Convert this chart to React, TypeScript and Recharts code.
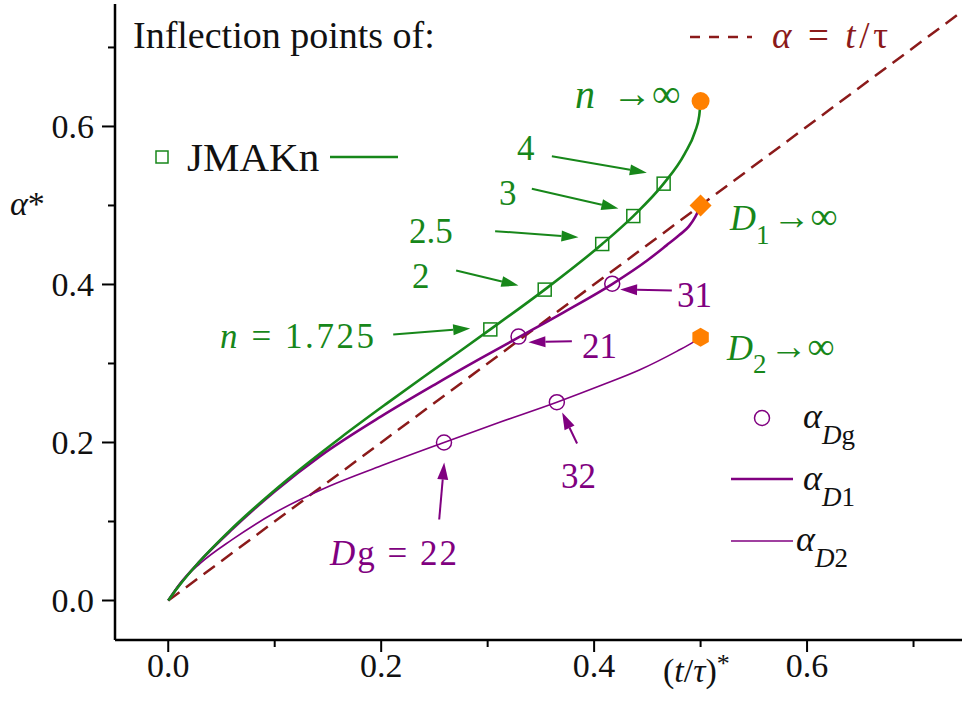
import React from 'react';
import { ComposedChart, Line, Scatter, XAxis, YAxis, ReferenceLine } from 'recharts';

const GREEN = '#17871a';
const PURPLE = '#800080';
const DARKRED = '#8b1a1a';
const ORANGE = '#ff8000';
const SERIF = '"Liberation Serif", "Times New Roman", serif';

// JMAKn inflection-point locus, n running from 1 up to infinity
const jmakT = [0, 0.0052, 0.0106, 0.0275, 0.0566, 0.1123, 0.1619, 0.2044, 0.2404, 0.2709, 0.3025, 0.3536, 0.4076, 0.4368, 0.4653, 0.485, 0.4948, 0.4987, 0.5];
const jmakA = [0, 0.0099, 0.0194, 0.0465, 0.0869, 0.1535, 0.2061, 0.2485, 0.2835, 0.3127, 0.3431, 0.3935, 0.4512, 0.4866, 0.5276, 0.5654, 0.5934, 0.6133, 0.6321];

// marked exponents on the JMAKn curve
const jmakMarkN = ['1.725', '2', '2.5', '3', '4'];
const jmakMarkT = [0.3025, 0.3536, 0.4076, 0.4368, 0.4653];
const jmakMarkA = [0.3431, 0.3935, 0.4512, 0.4866, 0.5276];

// alpha_D1 locus
const d1T = [0, 0.01, 0.03, 0.06, 0.1, 0.143, 0.2, 0.25, 0.293, 0.329, 0.371, 0.417, 0.4495, 0.468, 0.48, 0.489, 0.495, 0.5];
const d1A = [0, 0.019, 0.05, 0.09, 0.138, 0.183, 0.233, 0.273, 0.306, 0.333, 0.3645, 0.4005, 0.43, 0.4495, 0.4625, 0.4735, 0.4855, 0.5];

// alpha_D2 locus
const d2T = [0, 0.01, 0.03, 0.06, 0.1, 0.15, 0.2, 0.259, 0.31, 0.365, 0.408, 0.443, 0.478, 0.492, 0.5];
const d2A = [0, 0.02, 0.047, 0.077, 0.111, 0.144, 0.1705, 0.2, 0.225, 0.251, 0.273, 0.292, 0.3156, 0.326, 0.333];

// alpha_Dg points (Dg = 21, 31 on D1; 22, 32 on D2)
const dgLabels = ['21', '31', '22', '32'];
const dgT = [0.329, 0.417, 0.259, 0.365];
const dgA = [0.334, 0.401, 0.2, 0.251];

// limits n -> inf, D1 -> inf, D2 -> inf
const limitT = [0.5, 0.5, 0.5];
const limitA = [0.6321, 0.5, 0.3333];

// reference line alpha = t/tau
const refT = [0, 0.755];

const xTicks = [0, 0.1, 0.2, 0.3, 0.4, 0.5, 0.6, 0.7];
const yTicks = [0, 0.1, 0.2, 0.3, 0.4, 0.5, 0.6, 0.7];

// annotation arrows: tail -> head, in data units
const arrowColor = [GREEN, GREEN, GREEN, GREEN, GREEN, PURPLE, PURPLE, PURPLE, PURPLE];
const arrowFrom = [[0.3603, 0.5624], [0.3415, 0.5211], [0.307, 0.4675], [0.2704, 0.4177], [0.2113, 0.3367], [0.473, 0.3924], [0.3791, 0.3282], [0.384, 0.1987], [0.2545, 0.1025]];
const arrowTo = [[0.4495, 0.5414], [0.4228, 0.4962], [0.3853, 0.4599], [0.3289, 0.3987], [0.2836, 0.3443], [0.4244, 0.3937], [0.3383, 0.327], [0.37, 0.238], [0.2592, 0.1747]];

const toPts = (xs: number[], ys: number[]) => xs.map((x, i) => ({ x, y: ys[i] }));

const jmakLine = toPts(jmakT, jmakA);
const jmakMarks = toPts(jmakMarkT, jmakMarkA);
const d1Line = toPts(d1T, d1A);
const d2Line = toPts(d2T, d2A);
const dgMarks = toPts(dgT, dgA);
const refLine = toPts(refT, refT);

function XTick(props: any) {
  const { x, y, payload } = props;
  const v = payload.value as number;
  const major = Math.round(v * 10) % 2 === 0;
  return (
    <g>
      <line x1={x} y1={y} x2={x} y2={y + (major ? 12 : 7)} stroke="#000" strokeWidth={2} />
      {major && (
        <text x={x} y={y + 37} textAnchor="middle" fontFamily={SERIF} fontSize={34} fill="#111">
          {v.toFixed(1)}
        </text>
      )}
    </g>
  );
}

function YTick(props: any) {
  const { x, y, payload } = props;
  const v = payload.value as number;
  const major = Math.round(v * 10) % 2 === 0;
  return (
    <g>
      <line x1={x} y1={y} x2={x - (major ? 13 : 7)} y2={y} stroke="#000" strokeWidth={2} />
      {major && (
        <text x={x - 21} y={y} dy="0.35em" textAnchor="end" fontFamily={SERIF} fontSize={34} fill="#111">
          {v.toFixed(1)}
        </text>
      )}
    </g>
  );
}

const arrowShape = (color: string) => (p: any) => {
  const { x1, y1, x2, y2 } = p;
  const ang = Math.atan2(y2 - y1, x2 - x1);
  const len = 17;
  const half = 5.5;
  const bx = x2 - len * Math.cos(ang);
  const by = y2 - len * Math.sin(ang);
  const nx = -Math.sin(ang) * half;
  const ny = Math.cos(ang) * half;
  return (
    <g>
      <line x1={x1} y1={y1} x2={bx} y2={by} stroke={color} strokeWidth={2} />
      <polygon points={`${x2},${y2} ${bx + nx},${by + ny} ${bx - nx},${by - ny}`} fill={color} />
    </g>
  );
};

const squareShape = (p: any) => (
  <rect x={p.cx - 6.5} y={p.cy - 6.5} width={13} height={13} fill="none" stroke={GREEN} strokeWidth={1.5} />
);
const ringShape = (p: any) => <circle cx={p.cx} cy={p.cy} r={7.5} fill="none" stroke={PURPLE} strokeWidth={1.5} />;

// orange end points: circle, diamond, hexagon
const limitShape = (p: any) => {
  const { cx, cy, index } = p;
  if (index === 0) return <circle cx={cx} cy={cy} r={9} fill={ORANGE} />;
  if (index === 1) {
    const r = 11;
    return <polygon points={`${cx},${cy - r} ${cx + r},${cy} ${cx},${cy + r} ${cx - r},${cy}`} fill={ORANGE} />;
  }
  const r = 9.5;
  const pts = [0, 1, 2, 3, 4, 5]
    .map((k) => {
      const a = (Math.PI / 3) * k + Math.PI / 6;
      return `${cx + r * Math.cos(a)},${cy + r * Math.sin(a)}`;
    })
    .join(' ');
  return <polygon points={pts} fill={ORANGE} />;
};

function Overlay() {
  const t = { fontFamily: SERIF };
  return (
    <svg width={962} height={717} style={{ position: 'absolute', left: 0, top: 0, pointerEvents: 'none' }}>
      <text x={133} y={48} fontSize={38} fill="#111" {...t}>Inflection points of:</text>

      {/* alpha = t/tau legend */}
      <line x1={690} y1={37} x2={752} y2={37} stroke={DARKRED} strokeWidth={2.5} strokeDasharray="10 9" />
      <text x={772} y={48} fontSize={37} fill={DARKRED} textLength={116} lengthAdjust="spacing" {...t}>
        <tspan fontStyle="italic">α</tspan> = <tspan fontStyle="italic">t</tspan>/τ
      </text>

      {/* JMAKn legend */}
      <rect x={156} y={151} width={12} height={12} fill="none" stroke={GREEN} strokeWidth={1.5} />
      <text x={187} y={171} fontSize={41} fill="#111" {...t}>JMAKn</text>
      <line x1={330} y1={157} x2={398} y2={157} stroke={GREEN} strokeWidth={2.5} />

      {/* axis titles */}
      <text x={10} y={215} fontSize={34} fill="#111" {...t}>
        <tspan fontStyle="italic">α</tspan>*
      </text>
      <text x={663} y={682} fontSize={34} fill="#111" {...t}>
        (<tspan fontStyle="italic">t</tspan>/<tspan fontStyle="italic">τ</tspan>)<tspan dy={-10} fontSize={26}>*</tspan>
      </text>

      {/* JMAKn annotations */}
      <text x={575} y={108} fontSize={40} fill={GREEN} fontStyle="italic" {...t}>n</text>
      <text x={612} y={107} fontSize={40} fill={GREEN} {...t}>→∞</text>
      <text x={517} y={160} fontSize={35} fill={GREEN} {...t}>{jmakMarkN[4]}</text>
      <text x={499} y={205} fontSize={35} fill={GREEN} {...t}>{jmakMarkN[3]}</text>
      <text x={409} y={243} fontSize={35} fill={GREEN} {...t}>{jmakMarkN[2]}</text>
      <text x={412} y={288} fontSize={35} fill={GREEN} {...t}>{jmakMarkN[1]}</text>
      <text x={220} y={348} fontSize={35} fill={GREEN} textLength={154} lengthAdjust="spacing" {...t}>
        <tspan fontStyle="italic">n</tspan> = {jmakMarkN[0]}
      </text>

      {/* D limits */}
      <text x={730} y={230} fontSize={36} fill={GREEN} {...t}>
        <tspan fontStyle="italic">D</tspan>
        <tspan fontSize={27} dy={14}>1</tspan>
        <tspan fontSize={38} dy={-15} dx={3}>→∞</tspan>
      </text>
      <text x={727} y={360} fontSize={36} fill={GREEN} {...t}>
        <tspan fontStyle="italic">D</tspan>
        <tspan fontSize={27} dy={13}>2</tspan>
        <tspan fontSize={38} dy={-14} dx={3}>→∞</tspan>
      </text>

      {/* Dg annotations */}
      <text x={677} y={307} fontSize={35} fill={PURPLE} {...t}>{dgLabels[1]}</text>
      <text x={582} y={358} fontSize={35} fill={PURPLE} {...t}>{dgLabels[0]}</text>
      <text x={561} y={488} fontSize={35} fill={PURPLE} {...t}>{dgLabels[3]}</text>
      <text x={330} y={565} fontSize={35} fill={PURPLE} textLength={127} lengthAdjust="spacing" {...t}>
        <tspan fontStyle="italic">D</tspan>g = {dgLabels[2]}
      </text>

      {/* purple legend */}
      <circle cx={762} cy={418} r={7.5} fill="none" stroke={PURPLE} strokeWidth={1.5} />
      <text x={803} y={428} fontSize={36} fill="#111" {...t}>
        <tspan fontStyle="italic">α</tspan>
        <tspan fontSize={27} dy={16} fontStyle="italic">D</tspan>
        <tspan fontSize={27}>g</tspan>
      </text>
      <line x1={731} y1={479} x2={793} y2={479} stroke={PURPLE} strokeWidth={2.5} />
      <text x={803} y={490} fontSize={36} fill="#111" {...t}>
        <tspan fontStyle="italic">α</tspan>
        <tspan fontSize={27} dy={16} fontStyle="italic">D</tspan>
        <tspan fontSize={27}>1</tspan>
      </text>
      <line x1={731} y1={541} x2={793} y2={541} stroke={PURPLE} strokeWidth={1.5} />
      <text x={796} y={551} fontSize={36} fill="#111" {...t}>
        <tspan fontStyle="italic">α</tspan>
        <tspan fontSize={27} dy={16} fontStyle="italic">D</tspan>
        <tspan fontSize={27}>2</tspan>
      </text>
    </svg>
  );
}

export default function App() {
  return (
    <div style={{ position: 'absolute', left: 0, top: 0, width: 962, height: 717, overflow: 'hidden', background: '#fff' }}>
      <ComposedChart width={1040} height={717} margin={{ top: 4, right: 20, bottom: 17, left: 0 }}>
        <XAxis
          type="number"
          dataKey="x"
          domain={[-0.05, 0.8]}
          ticks={xTicks}
          interval={0}
          tickSize={0}
          tickMargin={0}
          tickLine={false}
          tick={XTick}
          axisLine={{ stroke: '#000', strokeWidth: 2.5 }}
          height={60}
          allowDataOverflow
        />
        <YAxis
          type="number"
          dataKey="y"
          domain={[-0.05, 0.755]}
          ticks={yTicks}
          interval={0}
          tickSize={0}
          tickMargin={0}
          tickLine={false}
          tick={YTick}
          axisLine={{ stroke: '#000', strokeWidth: 2.5 }}
          width={115}
          allowDataOverflow
        />
        <Scatter data={toPts(limitT, limitA)} dataKey="y" shape={limitShape} isAnimationActive={false} />
        <Line data={refLine} dataKey="y" type="linear" stroke={DARKRED} strokeWidth={2.5} strokeDasharray="14 8" dot={false} activeDot={false} isAnimationActive={false} />
        <Line data={d2Line} dataKey="y" type="monotone" stroke={PURPLE} strokeWidth={1.6} dot={false} activeDot={false} isAnimationActive={false} />
        <Line data={d1Line} dataKey="y" type="monotone" stroke={PURPLE} strokeWidth={2.6} dot={false} activeDot={false} isAnimationActive={false} />
        <Line data={jmakLine} dataKey="y" type="monotone" stroke={GREEN} strokeWidth={2.6} dot={false} activeDot={false} isAnimationActive={false} />
        <Scatter data={jmakMarks} dataKey="y" shape={squareShape} isAnimationActive={false} />
        <Scatter data={dgMarks} dataKey="y" shape={ringShape} isAnimationActive={false} />
        {arrowFrom.map((f, i) => (
          <ReferenceLine
            key={i}
            segment={[{ x: f[0], y: f[1] }, { x: arrowTo[i][0], y: arrowTo[i][1] }]}
            shape={arrowShape(arrowColor[i])}
          />
        ))}
      </ComposedChart>
      <Overlay />
    </div>
  );
}
